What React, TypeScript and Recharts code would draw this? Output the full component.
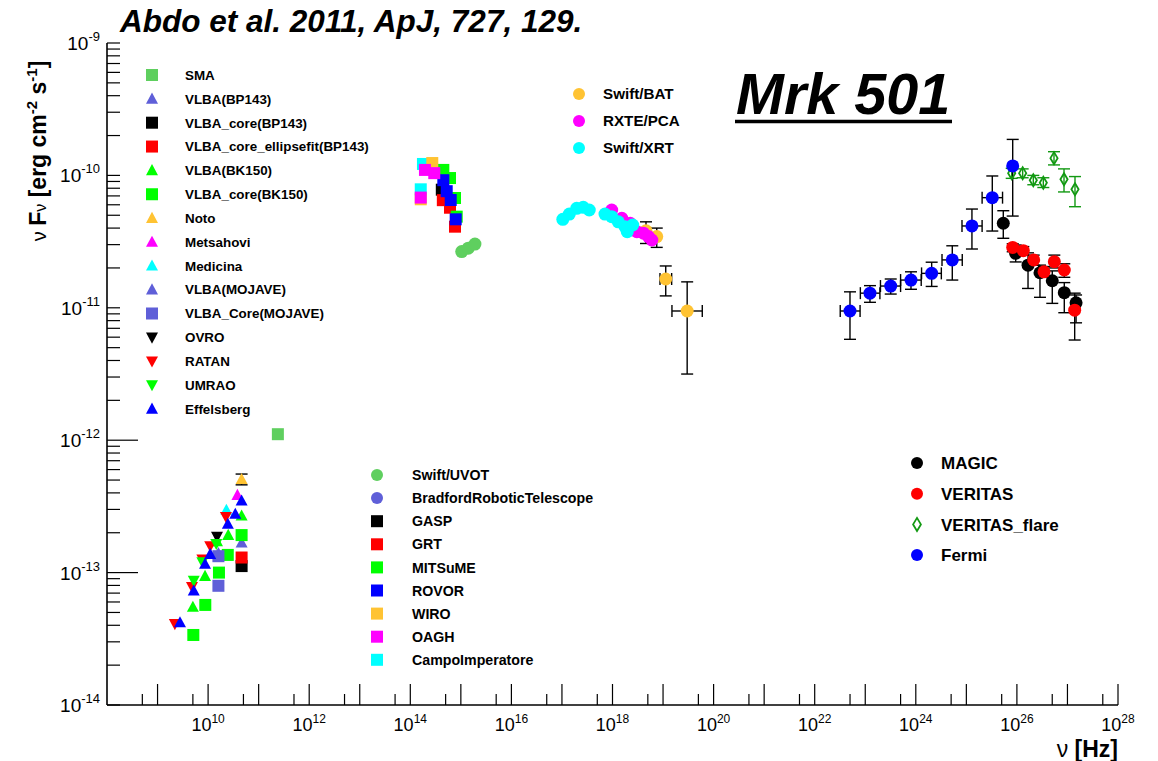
import React from 'react';
import { ScatterChart, Scatter, XAxis, YAxis, ErrorBar } from 'recharts';

// ---------------- DATA ----------------
// rows: [nu (Hz), nuFnu (erg cm^-2 s^-1), fLow, fHigh, nuLow, nuHigh]
type Row = (number | null)[];

// radio / mm
const SMA: Row[] = [[2.4e11, 1.11e-12]];
const VLBA_BP143: Row[] = [[4.6e10, 1.68e-13]];
const VLBA_CORE_BP143: Row[] = [[4.6e10, 1.12e-13]];
const VLBA_CORE_ELLIPSE_BP143: Row[] = [[4.6e10, 1.3e-13]];
const VLBA_BK150: Row[] = [[4.6e10, 2.69e-13], [2.5e10, 1.92e-13], [1.5e10, 1.72e-13], [8.7e9, 9.4e-14], [5.0e9, 5.5e-14]];
const VLBA_CORE_BK150: Row[] = [[4.6e10, 1.92e-13], [2.45e10, 1.36e-13], [1.64e10, 1.0e-13], [8.8e9, 5.7e-14], [5.1e9, 3.38e-14]];
const NOTO: Row[] = [[4.6e10, 5.07e-13, 4.6e-13, 5.55e-13]];
const METSAHOVI: Row[] = [[3.8e10, 3.85e-13]];
const MEDICINA: Row[] = [[2.3e10, 2.97e-13]];
const VLBA_MOJAVE: Row[] = [[1.6e10, 1.4e-13]];
const VLBA_CORE_MOJAVE: Row[] = [[1.6e10, 1.33e-13], [1.6e10, 7.95e-14]];
const OVRO: Row[] = [[1.5e10, 1.87e-13]];
const RATAN: Row[] = [[2.2e9, 4.1e-14], [4.8e9, 7.8e-14], [7.7e9, 1.26e-13], [1.1e10, 1.59e-13], [2.25e10, 2.64e-13]];
const UMRAO: Row[] = [[5.2e9, 8.7e-14], [7.7e9, 1.2e-13], [1.45e10, 1.65e-13]];
const EFFELSBERG: Row[] = [[2.78e9, 4.2e-14], [5.2e9, 7.3e-14], [8.7e9, 1.16e-13], [1.1e10, 1.38e-13], [2.46e10, 2.33e-13], [3.45e10, 2.77e-13], [4.6e10, 3.49e-13]];

// optical / UV
const UVOT: Row[] = [[1.04e15, 2.66e-11], [1.4e15, 2.82e-11], [1.9e15, 3.03e-11]];
const BRADFORD: Row[] = [];
const GASP: Row[] = [[4.2e14, 7.8e-11]];
const GRT: Row[] = [[4.4e14, 6.5e-11], [6.1e14, 5.7e-11], [7.66e14, 4.1e-11]];
const MITSUME: Row[] = [[4.5e14, 1.1e-10], [6.1e14, 9.55e-11], [7.66e14, 6.75e-11], [8.28e14, 4.88e-11]];
const ROVOR: Row[] = [[4.5e14, 9.2e-11], [5.25e14, 7.6e-11], [6.3e14, 6.52e-11], [7.9e14, 4.66e-11]];
const CAMPO: Row[] = [[1.78e14, 1.22e-10], [1.61e14, 7.85e-11]];
const WIRO: Row[] = [[2.72e14, 1.24e-10], [1.61e14, 6.6e-11]];
const OAGH: Row[] = [[1.95e14, 1.1e-10], [2.98e14, 1.04e-10], [1.61e14, 6.8e-11]];

// X-ray
const BAT: Row[] = [
  [4.6e18, 3.82e-11, 3.06e-11, 4.46e-11],
  [7.5e18, 3.45e-11, 2.86e-11, 4.0e-11],
  [1.13e19, 1.65e-11, 1.23e-11, 2.07e-11, 8.7e18, 1.48e19],
  [3.0e19, 9.46e-12, 3.16e-12, 1.57e-11, 1.5e19, 5.97e19],
];
const PCA: Row[] = [[9.65e17, 5.48e-11], [1.53e18, 4.74e-11], [2.24e18, 4.35e-11], [3.04e18, 3.76e-11], [4.1e18, 3.66e-11], [5.15e18, 3.45e-11], [6.0e18, 3.25e-11]];
const XRT: Row[] = [[1.04e17, 4.66e-11], [1.4e17, 5.1e-11], [1.96e17, 5.64e-11], [2.64e17, 5.74e-11], [3.47e17, 5.48e-11], [7.1e17, 5.1e-11], [9.65e17, 4.88e-11], [1.3e18, 4.46e-11], [1.77e18, 4.1e-11], [1.96e18, 3.76e-11], [2.51e18, 4.22e-11]];

// gamma-ray
const MAGIC: Row[] = [
  [5.38e25, 4.35e-11, 3.35e-11, 5.41e-11],
  [9.46e25, 2.58e-11, 2.22e-11, 2.98e-11],
  [1.66e26, 2.1e-11, 1.4e-11, 2.6e-11],
  [2.86e26, 1.84e-11, 1.2e-11, 2.1e-11],
  [5.01e26, 1.6e-11, 1.08e-11, 1.9e-11],
  [8.66e26, 1.3e-11, 9.18e-12, 1.55e-11],
  [1.48e27, 1.09e-11, 7.7e-12, 1.25e-11],
];
const VERITAS: Row[] = [
  [8.26e25, 2.86e-11, 2.65e-11, 3.05e-11],
  [1.34e26, 2.7e-11, 2.5e-11, 2.9e-11],
  [2.15e26, 2.3e-11, 2.1e-11, 2.5e-11],
  [3.44e26, 1.87e-11, 1.7e-11, 2.05e-11],
  [5.5e26, 2.23e-11, 2.0e-11, 2.5e-11],
  [8.66e26, 1.93e-11, 1.7e-11, 2.15e-11],
  [1.39e27, 9.6e-12, 5.71e-12, 1.29e-11],
];
const VERITAS_FLARE: Row[] = [
  [7.89e25, 1.04e-10, 9.5e-11, 1.13e-10],
  [1.3e26, 1.04e-10, 9.6e-11, 1.12e-10],
  [2.11e26, 9.2e-11, 8.5e-11, 1.0e-10],
  [3.33e26, 8.8e-11, 8.1e-11, 9.6e-11],
  [5.42e26, 1.35e-10, 1.2e-10, 1.51e-10],
  [8.55e26, 9.35e-11, 7.5e-11, 1.12e-10],
  [1.41e27, 7.85e-11, 5.8e-11, 9.8e-11],
];
const FERMI: Row[] = [
  [4.99e22, 9.46e-12, 5.78e-12, 1.32e-11, 3.2e22, 7.9e22],
  [1.24e23, 1.29e-11, 1.1e-11, 1.47e-11, 8.0e22, 1.95e23],
  [3.19e23, 1.46e-11, 1.27e-11, 1.65e-11, 2.0e23, 5.0e23],
  [8.03e23, 1.62e-11, 1.38e-11, 1.87e-11, 5.0e23, 1.28e24],
  [2.06e24, 1.82e-11, 1.45e-11, 2.21e-11, 1.3e24, 3.2e24],
  [5.27e24, 2.3e-11, 1.62e-11, 2.94e-11, 3.3e24, 8.3e24],
  [1.29e25, 4.15e-11, 2.78e-11, 5.57e-11, 8.2e24, 2.05e25],
  [3.26e25, 6.79e-11, 3.8e-11, 9.9e-11, 2.05e25, 5.2e25],
  [8.26e25, 1.18e-10, 4.93e-11, 1.87e-10],
];

// axis ticks
const X_DECADES = [9, 10, 11, 12, 13, 14, 15, 16, 17, 18, 19, 20, 21, 22, 23, 24, 25, 26, 27, 28];
const X_LABEL_DECADES = [10, 12, 14, 16, 18, 20, 22, 24, 26, 28];
const Y_DECADES = [-14, -13, -12, -11, -10, -9];
const Y_MINOR_MULTIPLES = [2, 3, 4, 5, 6, 7, 8, 9];
const Y_LONG_TICK_DECADES = [-12, -13];

// ---------------- STYLE ----------------
const FONT = '"Liberation Sans", Arial, Helvetica, sans-serif';
const LAVENDER = '#5f5fd8';
const LIGHTGREEN = '#5fcf5f';
const ORANGE = '#ffc333';

type Shape = 'square' | 'triUp' | 'triDown' | 'circle' | 'diamond';
interface SeriesDef {
  name: string;
  rows: Row[];
  shape: Shape;
  color: string;
  size: number;
  errColor?: string;
}

const RADIO: SeriesDef[] = [
  { name: 'SMA', rows: SMA, shape: 'square', color: LIGHTGREEN, size: 12 },
  { name: 'VLBA(BP143)', rows: VLBA_BP143, shape: 'triUp', color: LAVENDER, size: 12 },
  { name: 'VLBA_core(BP143)', rows: VLBA_CORE_BP143, shape: 'square', color: '#000000', size: 12 },
  { name: 'VLBA_core_ellipsefit(BP143)', rows: VLBA_CORE_ELLIPSE_BP143, shape: 'square', color: '#ff0000', size: 12 },
  { name: 'VLBA(BK150)', rows: VLBA_BK150, shape: 'triUp', color: '#00ff00', size: 12 },
  { name: 'VLBA_core(BK150)', rows: VLBA_CORE_BK150, shape: 'square', color: '#00ff00', size: 12 },
  { name: 'Noto', rows: NOTO, shape: 'triUp', color: ORANGE, size: 12 },
  { name: 'Metsahovi', rows: METSAHOVI, shape: 'triUp', color: '#ff00ff', size: 12 },
  { name: 'Medicina', rows: MEDICINA, shape: 'triUp', color: '#00ffff', size: 12 },
  { name: 'VLBA(MOJAVE)', rows: VLBA_MOJAVE, shape: 'triUp', color: LAVENDER, size: 12 },
  { name: 'VLBA_Core(MOJAVE)', rows: VLBA_CORE_MOJAVE, shape: 'square', color: LAVENDER, size: 12 },
  { name: 'OVRO', rows: OVRO, shape: 'triDown', color: '#000000', size: 12 },
  { name: 'RATAN', rows: RATAN, shape: 'triDown', color: '#ff0000', size: 12 },
  { name: 'UMRAO', rows: UMRAO, shape: 'triDown', color: '#00ff00', size: 12 },
  { name: 'Effelsberg', rows: EFFELSBERG, shape: 'triUp', color: '#0000ff', size: 12 },
];

const OPTICAL: SeriesDef[] = [
  { name: 'Swift/UVOT', rows: UVOT, shape: 'circle', color: LIGHTGREEN, size: 13 },
  { name: 'BradfordRoboticTelescope', rows: BRADFORD, shape: 'circle', color: LAVENDER, size: 13 },
  { name: 'GASP', rows: GASP, shape: 'square', color: '#000000', size: 12 },
  { name: 'GRT', rows: GRT, shape: 'square', color: '#ff0000', size: 12 },
  { name: 'MITSuME', rows: MITSUME, shape: 'square', color: '#00ff00', size: 12 },
  { name: 'ROVOR', rows: ROVOR, shape: 'square', color: '#0000ff', size: 12 },
  { name: 'WIRO', rows: WIRO, shape: 'square', color: ORANGE, size: 12 },
  { name: 'OAGH', rows: OAGH, shape: 'square', color: '#ff00ff', size: 12 },
  { name: 'CampoImperatore', rows: CAMPO, shape: 'square', color: '#00ffff', size: 12 },
];
const OPTICAL_DRAW_ORDER = [0, 1, 2, 3, 4, 5, 8, 6, 7];

const XRAY: SeriesDef[] = [
  { name: 'Swift/BAT', rows: BAT, shape: 'circle', color: ORANGE, size: 13 },
  { name: 'RXTE/PCA', rows: PCA, shape: 'circle', color: '#ff00ff', size: 13 },
  { name: 'Swift/XRT', rows: XRT, shape: 'circle', color: '#00ffff', size: 13 },
];

const GAMMA: SeriesDef[] = [
  { name: 'MAGIC', rows: MAGIC, shape: 'circle', color: '#000000', size: 13 },
  { name: 'VERITAS', rows: VERITAS, shape: 'circle', color: '#ff0000', size: 13 },
  { name: 'VERITAS_flare', rows: VERITAS_FLARE, shape: 'diamond', color: '#129912', size: 12, errColor: '#129912' },
  { name: 'Fermi', rows: FERMI, shape: 'circle', color: '#0000ff', size: 13 },
];

// ---------------- HELPERS ----------------
function marker(shape: Shape, color: string, size: number, cx: number, cy: number) {
  const h = size / 2;
  switch (shape) {
    case 'square':
      return <rect x={cx - h} y={cy - h} width={size} height={size} fill={color} />;
    case 'triUp':
      return <polygon points={`${cx},${cy - h * 1.05} ${cx - h},${cy + h * 0.8} ${cx + h},${cy + h * 0.8}`} fill={color} />;
    case 'triDown':
      return <polygon points={`${cx},${cy + h * 1.05} ${cx - h},${cy - h * 0.8} ${cx + h},${cy - h * 0.8}`} fill={color} />;
    case 'circle':
      return <circle cx={cx} cy={cy} r={h} fill={color} />;
    case 'diamond':
      return (
        <polygon
          points={`${cx},${cy - h} ${cx + h * 0.6},${cy} ${cx},${cy + h} ${cx - h * 0.6},${cy}`}
          fill="none"
          stroke={color}
          strokeWidth={1.8}
        />
      );
  }
  return <g />;
}

function toPoints(rows: Row[]) {
  return rows.map((r) => ({
    x: r[0] as number,
    y: r[1] as number,
    ey: r[2] != null && r[3] != null ? [(r[1] as number) - r[2], r[3] - (r[1] as number)] : null,
    ex: r[4] != null && r[5] != null ? [(r[0] as number) - r[4], r[5] - (r[0] as number)] : null,
  }));
}

const X_TICKS: number[] = [];
X_DECADES.forEach((e) => {
  X_TICKS.push(5 * Math.pow(10, e - 1));
  X_TICKS.push(Math.pow(10, e));
});
const Y_TICKS: number[] = [];
Y_DECADES.forEach((e) => {
  Y_TICKS.push(Math.pow(10, e));
  if (e < -9) Y_MINOR_MULTIPLES.forEach((m) => Y_TICKS.push(m * Math.pow(10, e)));
});
const Y_MAJOR = Y_DECADES.map((e) => Math.pow(10, e));

function decadeOf(v: number) {
  const lg = Math.log10(v);
  const e = Math.round(lg);
  return { e, major: Math.abs(lg - e) < 1e-6 };
}

function XTick(props: any) {
  const { x, y, payload } = props;
  const { e, major } = decadeOf(payload.value);
  return (
    <g>
      <line x1={x} x2={x} y1={y} y2={y - (major ? 21 : 11)} stroke="#000" strokeWidth={1.2} />
      {major && X_LABEL_DECADES.includes(e) ? (
        <text x={x} y={y + 26} textAnchor="middle" fontFamily={FONT} fontSize={18} fill="#000">
          10
          <tspan dy={-8} fontSize={12}>
            {e}
          </tspan>
        </text>
      ) : null}
    </g>
  );
}

function YTick(props: any) {
  const { x, y, payload } = props;
  const { e, major } = decadeOf(payload.value);
  const len = major && Y_LONG_TICK_DECADES.includes(e) ? 31 : 13;
  return (
    <g>
      <line x1={x} x2={x + len} y1={y} y2={y} stroke="#000" strokeWidth={1.2} />
      {major ? (
        <text x={x - 7} y={y + 7} textAnchor="end" fontFamily={FONT} fontSize={19} fill="#000">
          10
          <tspan dy={-9} fontSize={13}>
            {e}
          </tspan>
        </text>
      ) : null}
    </g>
  );
}

function RightTick(props: any) {
  const { x, y } = props;
  return <line x1={x} x2={x - 18} y1={y} y2={y} stroke="#000" strokeWidth={1.2} />;
}

function renderSeries(s: SeriesDef) {
  const pts = toPoints(s.rows);
  const hasY = pts.some((p) => p.ey);
  const hasX = pts.some((p) => p.ex);
  const ec = s.errColor || '#000';
  return (
    <Scatter
      key={s.name}
      name={s.name}
      data={pts}
      isAnimationActive={false}
      legendType="none"
      shape={(p: any) => marker(s.shape, s.color, s.size, p.cx, p.cy)}
    >
      {hasY ? <ErrorBar dataKey="ey" direction="y" width={6} stroke={ec} strokeWidth={1.4} /> : null}
      {hasX ? <ErrorBar dataKey="ex" direction="x" width={6} stroke={ec} strokeWidth={1.4} /> : null}
    </Scatter>
  );
}

function LegendBlock({ items, mx, tx, y0, dy, fs, ms }: { items: SeriesDef[]; mx: number; tx: number; y0: number; dy: number; fs: number; ms: number }) {
  return (
    <g>
      {items.map((s, i) => {
        const cy = y0 + i * dy;
        return (
          <g key={s.name}>
            {marker(s.shape, s.color, s.shape === 'diamond' ? 13 : ms, mx, cy)}
            <text x={tx} y={cy + fs * 0.36} fontFamily={FONT} fontWeight="bold" fontSize={fs} fill="#000">
              {s.name}
            </text>
          </g>
        );
      })}
    </g>
  );
}

export default function App() {
  const axisLine = { stroke: '#000', strokeWidth: 1.6 };
  const drawOrder: SeriesDef[] = [
    ...RADIO,
    ...OPTICAL_DRAW_ORDER.map((i) => OPTICAL[i]),
    XRAY[0],
    XRAY[1],
    XRAY[2],
    ...GAMMA,
  ];
  return (
    <div style={{ position: 'absolute', left: 0, top: 0, width: 1158, height: 761, background: '#fff' }}>
      <ScatterChart width={1158} height={761} margin={{ top: 43, right: 40, bottom: 6, left: 47 }}>
        <XAxis
          xAxisId={0}
          dataKey="x"
          type="number"
          scale="log"
          domain={[1e8, 1e28]}
          allowDataOverflow
          ticks={X_TICKS}
          interval={0}
          tick={<XTick />}
          tickLine={false}
          tickSize={0}
          tickMargin={0}
          height={50}
          axisLine={axisLine}
        />
        <XAxis
          xAxisId="top"
          orientation="top"
          type="number"
          scale="log"
          domain={[1e8, 1e28]}
          allowDataOverflow
          tick={false}
          tickLine={false}
          height={0}
          axisLine={axisLine}
        />
        <YAxis
          yAxisId={0}
          dataKey="y"
          type="number"
          scale="log"
          domain={[1e-14, 1e-9]}
          allowDataOverflow
          ticks={Y_TICKS}
          interval={0}
          tick={<YTick />}
          tickLine={false}
          tickSize={0}
          tickMargin={0}
          width={60}
          axisLine={axisLine}
        />
        <YAxis
          yAxisId="right"
          orientation="right"
          type="number"
          scale="log"
          domain={[1e-14, 1e-9]}
          allowDataOverflow
          ticks={Y_MAJOR}
          interval={0}
          tick={<RightTick />}
          tickLine={false}
          tickSize={0}
          tickMargin={0}
          width={0}
          axisLine={axisLine}
        />
        {drawOrder.map(renderSeries)}
      </ScatterChart>

      <svg width={1158} height={761} style={{ position: 'absolute', left: 0, top: 0, pointerEvents: 'none' }}>
        <text x={120} y={32} fontFamily={FONT} fontWeight="bold" fontStyle="italic" fontSize={31.5} fill="#000">
          Abdo et al. 2011, ApJ, 727, 129.
        </text>
        <text x={736} y={114} fontFamily={FONT} fontWeight="bold" fontStyle="italic" fontSize={57.5} fill="#000">
          Mrk 501
        </text>
        <line x1={735} x2={952} y1={121.5} y2={121.5} stroke="#000" strokeWidth={3.5} />

        <text transform="translate(46,151) rotate(-90)" textAnchor="middle" fontFamily={FONT} fontSize={23} fill="#000">
          <tspan fontSize={20}>ν </tspan>
          <tspan fontWeight="bold">F</tspan>
          <tspan fontSize={16}>ν</tspan>
          <tspan fontWeight="bold"> [erg cm</tspan>
          <tspan fontWeight="bold" fontSize={15} dy={-9}>-2</tspan>
          <tspan fontWeight="bold" dy={9}> s</tspan>
          <tspan fontWeight="bold" fontSize={15} dy={-9}>-1</tspan>
          <tspan fontWeight="bold" dy={9}>]</tspan>
        </text>
        <text x={1118} y={757} textAnchor="end" fontFamily={FONT} fontSize={23} fill="#000">
          <tspan>ν </tspan>
          <tspan fontWeight="bold">[Hz]</tspan>
        </text>

        <LegendBlock items={RADIO} mx={152} tx={185} y0={75} dy={23.85} fs={13.4} ms={12} />
        <LegendBlock items={XRAY} mx={579} tx={603} y0={94} dy={27} fs={15.2} ms={12} />
        <LegendBlock items={OPTICAL} mx={377} tx={412} y0={475} dy={23.1} fs={14.2} ms={12} />
        <LegendBlock items={GAMMA} mx={917} tx={941} y0={463} dy={30.7} fs={17} ms={12} />
      </svg>
    </div>
  );
}
